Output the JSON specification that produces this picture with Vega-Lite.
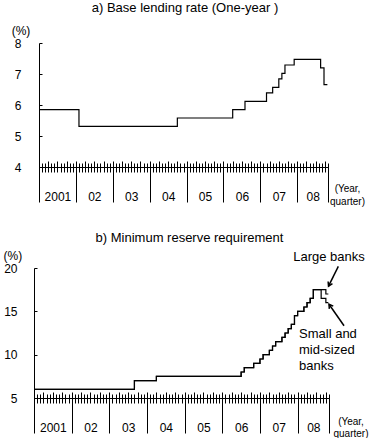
{
  "$schema": "https://vega.github.io/schema/vega-lite/v6.json",
  "background": "white",
  "padding": {"left": 2, "top": 1, "right": 0, "bottom": 0},
  "spacing": 26,
  "config": {
    "font": "Liberation Sans",
    "view": {"stroke": null},
    "axis": {"grid": false, "domainColor": "#000", "tickColor": "#000", "labelColor": "#000", "titleColor": "#000", "labelFont": "Liberation Sans", "titleFont": "Liberation Sans", "labelFontSize": 12, "titleFontWeight": "normal", "domainWidth": 1, "tickWidth": 1, "labelOverlap": false, "labelFlush": false},
    "title": {"font": "Liberation Sans", "fontSize": 13, "fontWeight": "normal", "color": "#000"},
    "text": {"font": "Liberation Sans", "color": "#000"}
  },
  "datasets": {
    "rate": [
      {"m": 0, "v": 5.85}, {"m": 13, "v": 5.31}, {"m": 45, "v": 5.58}, {"m": 63, "v": 5.85},
      {"m": 67, "v": 6.12}, {"m": 74, "v": 6.39}, {"m": 76, "v": 6.57}, {"m": 78, "v": 6.84},
      {"m": 79, "v": 7.02}, {"m": 80, "v": 7.29}, {"m": 83, "v": 7.47}, {"m": 91.6, "v": 7.2},
      {"m": 92.7, "v": 6.66}, {"m": 93.8, "v": 6.66}
    ],
    "rrr": [
      {"s": "large", "m": 0, "v": 6}, {"s": "large", "m": 32, "v": 7}, {"s": "large", "m": 39, "v": 7.5},
      {"s": "large", "m": 66, "v": 8}, {"s": "large", "m": 67, "v": 8.5}, {"s": "large", "m": 70, "v": 9},
      {"s": "large", "m": 72, "v": 9.5}, {"s": "large", "m": 73, "v": 10}, {"s": "large", "m": 75, "v": 10.5},
      {"s": "large", "m": 76, "v": 11}, {"s": "large", "m": 77, "v": 11.5}, {"s": "large", "m": 79, "v": 12},
      {"s": "large", "m": 80, "v": 12.5}, {"s": "large", "m": 81, "v": 13}, {"s": "large", "m": 82, "v": 13.5},
      {"s": "large", "m": 83, "v": 14.5}, {"s": "large", "m": 84, "v": 15}, {"s": "large", "m": 86, "v": 15.5},
      {"s": "large", "m": 87, "v": 16}, {"s": "large", "m": 88, "v": 16.5}, {"s": "large", "m": 89, "v": 17.5},
      {"s": "large", "m": 93, "v": 17}, {"s": "large", "m": 93.8, "v": 17},
      {"s": "small", "m": 0, "v": 6}, {"s": "small", "m": 32, "v": 7}, {"s": "small", "m": 39, "v": 7.5},
      {"s": "small", "m": 66, "v": 8}, {"s": "small", "m": 67, "v": 8.5}, {"s": "small", "m": 70, "v": 9},
      {"s": "small", "m": 72, "v": 9.5}, {"s": "small", "m": 73, "v": 10}, {"s": "small", "m": 75, "v": 10.5},
      {"s": "small", "m": 76, "v": 11}, {"s": "small", "m": 77, "v": 11.5}, {"s": "small", "m": 79, "v": 12},
      {"s": "small", "m": 80, "v": 12.5}, {"s": "small", "m": 81, "v": 13}, {"s": "small", "m": 82, "v": 13.5},
      {"s": "small", "m": 83, "v": 14.5}, {"s": "small", "m": 84, "v": 15}, {"s": "small", "m": 86, "v": 15.5},
      {"s": "small", "m": 87, "v": 16}, {"s": "small", "m": 88, "v": 16.5}, {"s": "small", "m": 89, "v": 17.5},
      {"s": "small", "m": 91.5, "v": 16.5}, {"s": "small", "m": 93, "v": 16}, {"s": "small", "m": 93.8, "v": 16}
    ],
    "notes": [
      {"name": "large", "m": 94, "v": 21.22, "label": "Large banks"},
      {"name": "small", "m": 84.45, "v": 12.38, "label": "Small and\nmid-sized\nbanks"}
    ],
    "arrows": [
      {"name": "large", "m": 96.97, "v": 20.18, "m2": 93.85, "v2": 17.9},
      {"name": "small", "m": 98.79, "v": 13.34, "m2": 94.0, "v2": 15.82}
    ]
  },
  "vconcat": [
    {
      "width": 294,
      "height": 124,
      "title": {"text": "a) Base lending rate (One-year )", "anchor": "middle", "offset": 10, "dx": 4},
      "resolve": {"axis": {"x": "independent"}},
      "layer": [
        {
          "data": {"name": "rate"},
          "mark": {"type": "line", "interpolate": "step-after", "color": "#000", "strokeWidth": 1.2},
          "encoding": {
            "x": {"field": "m", "type": "quantitative", "scale": {"domain": [0, 94], "range": [5, 294], "nice": false, "zero": false},
              "axis": {"orient": "bottom", "values": [0,1,2,3,4,5,6,7,8,9,10,11,12,13,14,15,16,17,18,19,20,21,22,23,24,25,26,27,28,29,30,31,32,33,34,35,36,37,38,39,40,41,42,43,44,45,46,47,48,49,50,51,52,53,54,55,56,57,58,59,60,61,62,63,64,65,66,67,68,69,70,71,72,73,74,75,76,77,78,79,80,81,82,83,84,85,86,87,88,89,90,91,92,93,94], "tickSize": -4, "labels": false, "domain": true, "title": null}},
            "y": {"field": "v", "type": "quantitative", "scale": {"domain": [4, 8], "nice": false, "zero": false},
              "axis": {"values": [4, 5, 6, 7, 8], "tickSize": -3, "labelPadding": 21, "offset": -5, "title": "(%)", "titleAngle": 0, "titleX": -18.5, "titleY": -12.5, "titleAlign": "center", "titleBaseline": "middle", "titleFontSize": 12}}
          }
        },
        {
          "data": {"name": "rate"},
          "mark": {"type": "text", "text": ""},
          "encoding": {
            "x": {"field": "m", "type": "quantitative",
              "axis": {"orient": "bottom", "values": [0,1,2,3,4,5,6,7,8,9,10,11,12,13,14,15,16,17,18,19,20,21,22,23,24,25,26,27,28,29,30,31,32,33,34,35,36,37,38,39,40,41,42,43,44,45,46,47,48,49,50,51,52,53,54,55,56,57,58,59,60,61,62,63,64,65,66,67,68,69,70,71,72,73,74,75,76,77,78,79,80,81,82,83,84,85,86,87,88,89,90,91,92,93,94], "tickSize": 5, "labels": false, "domain": false, "title": null}},
            "y": {"field": "v", "type": "quantitative", "scale": {"domain": [4, 8], "nice": false, "zero": false},
              "axis": {"values": [4, 5, 6, 7, 8], "tickSize": -3, "labelPadding": 21, "offset": -5, "title": "(%)", "titleAngle": 0, "titleX": -18.5, "titleY": -12.5, "titleAlign": "center", "titleBaseline": "middle", "titleFontSize": 12}}
          }
        },
        {
          "data": {"name": "rate"},
          "mark": {"type": "text", "text": ""},
          "encoding": {
            "x": {"field": "m", "type": "quantitative",
              "axis": {"orient": "bottom", "values": [0,3,6,9,12,15,18,21,24,27,30,33,36,39,42,45,48,51,54,57,60,63,66,69,72,75,78,81,84,87,90,93], "tickSize": -6, "labels": false, "domain": false, "title": null}},
            "y": {"field": "v", "type": "quantitative", "scale": {"domain": [4, 8], "nice": false, "zero": false},
              "axis": {"values": [4, 5, 6, 7, 8], "tickSize": -3, "labelPadding": 21, "offset": -5, "title": "(%)", "titleAngle": 0, "titleX": -18.5, "titleY": -12.5, "titleAlign": "center", "titleBaseline": "middle", "titleFontSize": 12}}
          }
        },
        {
          "data": {"name": "rate"},
          "mark": {"type": "text", "text": ""},
          "encoding": {
            "x": {"field": "m", "type": "quantitative",
              "axis": {"orient": "bottom", "values": [0, 12, 24, 36, 48, 60, 72, 84, 94], "tickSize": 35, "labels": false, "domain": false, "title": null}},
            "y": {"field": "v", "type": "quantitative", "scale": {"domain": [4, 8], "nice": false, "zero": false},
              "axis": {"values": [4, 5, 6, 7, 8], "tickSize": -3, "labelPadding": 21, "offset": -5, "title": "(%)", "titleAngle": 0, "titleX": -18.5, "titleY": -12.5, "titleAlign": "center", "titleBaseline": "middle", "titleFontSize": 12}}
          }
        },
        {
          "data": {"name": "rate"},
          "mark": {"type": "text", "text": ""},
          "encoding": {
            "x": {"field": "m", "type": "quantitative",
              "axis": {"orient": "bottom", "values": [6, 18, 30, 42, 54, 66, 78, 89], "ticks": false, "domain": false, "labelPadding": 24,
                "labelExpr": "datum.value < 12 ? '2001' : '0' + (floor(datum.value / 12) + 1)",
                "title": ["(Year,", "quarter)"], "titleFontSize": 10, "titleX": 313, "titleY": 16.5, "titleAlign": "center", "titleBaseline": "top", "titleLineHeight": 12.5, "titleAngle": 0}},
            "y": {"field": "v", "type": "quantitative", "scale": {"domain": [4, 8], "nice": false, "zero": false},
              "axis": {"values": [4, 5, 6, 7, 8], "tickSize": -3, "labelPadding": 21, "offset": -5, "title": "(%)", "titleAngle": 0, "titleX": -18.5, "titleY": -12.5, "titleAlign": "center", "titleBaseline": "middle", "titleFontSize": 12}}
          }
        }
      ]
    },
    {
      "width": 295,
      "height": 130,
      "title": {"text": "b) Minimum reserve requirement", "anchor": "middle", "offset": 4, "dx": 8},
      "resolve": {"axis": {"x": "independent"}},
      "layer": [
        {
          "data": {"name": "rrr"},
          "mark": {"type": "line", "interpolate": "step-after", "color": "#000", "strokeWidth": 1.2},
          "encoding": {
            "x": {"field": "m", "type": "quantitative", "scale": {"domain": [0, 94], "nice": false, "zero": false},
              "axis": {"orient": "bottom", "values": [0,1,2,3,4,5,6,7,8,9,10,11,12,13,14,15,16,17,18,19,20,21,22,23,24,25,26,27,28,29,30,31,32,33,34,35,36,37,38,39,40,41,42,43,44,45,46,47,48,49,50,51,52,53,54,55,56,57,58,59,60,61,62,63,64,65,66,67,68,69,70,71,72,73,74,75,76,77,78,79,80,81,82,83,84,85,86,87,88,89,90,91,92,93,94], "tickSize": -4, "labels": false, "domain": true, "title": null}},
            "y": {"field": "v", "type": "quantitative", "scale": {"domain": [5, 20], "nice": false, "zero": false},
              "axis": {"values": [5, 10, 15, 20], "tickSize": -3, "labelPadding": 20, "title": "(%)", "titleAngle": 0, "titleX": -21.7, "titleY": -13, "titleAlign": "center", "titleBaseline": "middle", "titleFontSize": 12}},
            "detail": {"field": "s", "type": "nominal"}
          }
        },
        {
          "data": {"name": "rrr"},
          "mark": {"type": "text", "text": ""},
          "encoding": {
            "x": {"field": "m", "type": "quantitative",
              "axis": {"orient": "bottom", "values": [0,1,2,3,4,5,6,7,8,9,10,11,12,13,14,15,16,17,18,19,20,21,22,23,24,25,26,27,28,29,30,31,32,33,34,35,36,37,38,39,40,41,42,43,44,45,46,47,48,49,50,51,52,53,54,55,56,57,58,59,60,61,62,63,64,65,66,67,68,69,70,71,72,73,74,75,76,77,78,79,80,81,82,83,84,85,86,87,88,89,90,91,92,93,94], "tickSize": 5, "labels": false, "domain": false, "title": null}},
            "y": {"field": "v", "type": "quantitative", "scale": {"domain": [5, 20], "nice": false, "zero": false},
              "axis": {"values": [5, 10, 15, 20], "tickSize": -3, "labelPadding": 20, "title": "(%)", "titleAngle": 0, "titleX": -21.7, "titleY": -13, "titleAlign": "center", "titleBaseline": "middle", "titleFontSize": 12}}
          }
        },
        {
          "data": {"name": "rrr"},
          "mark": {"type": "text", "text": ""},
          "encoding": {
            "x": {"field": "m", "type": "quantitative",
              "axis": {"orient": "bottom", "values": [0,3,6,9,12,15,18,21,24,27,30,33,36,39,42,45,48,51,54,57,60,63,66,69,72,75,78,81,84,87,90,93], "tickSize": -6, "labels": false, "domain": false, "title": null}},
            "y": {"field": "v", "type": "quantitative", "scale": {"domain": [5, 20], "nice": false, "zero": false},
              "axis": {"values": [5, 10, 15, 20], "tickSize": -3, "labelPadding": 20, "title": "(%)", "titleAngle": 0, "titleX": -21.7, "titleY": -13, "titleAlign": "center", "titleBaseline": "middle", "titleFontSize": 12}}
          }
        },
        {
          "data": {"name": "rrr"},
          "mark": {"type": "text", "text": ""},
          "encoding": {
            "x": {"field": "m", "type": "quantitative",
              "axis": {"orient": "bottom", "values": [0, 12, 24, 36, 48, 60, 72, 84, 94], "tickSize": 35, "labels": false, "domain": false, "title": null}},
            "y": {"field": "v", "type": "quantitative", "scale": {"domain": [5, 20], "nice": false, "zero": false},
              "axis": {"values": [5, 10, 15, 20], "tickSize": -3, "labelPadding": 20, "title": "(%)", "titleAngle": 0, "titleX": -21.7, "titleY": -13, "titleAlign": "center", "titleBaseline": "middle", "titleFontSize": 12}}
          }
        },
        {
          "data": {"name": "rrr"},
          "mark": {"type": "text", "text": ""},
          "encoding": {
            "x": {"field": "m", "type": "quantitative",
              "axis": {"orient": "bottom", "values": [6, 18, 30, 42, 54, 66, 78, 89], "ticks": false, "domain": false, "labelPadding": 24,
                "labelExpr": "datum.value < 12 ? '2001' : '0' + (floor(datum.value / 12) + 1)",
                "title": ["(Year,", "quarter)"], "titleFontSize": 10, "titleX": 316.5, "titleY": 18, "titleAlign": "center", "titleBaseline": "top", "titleLineHeight": 12, "titleAngle": 0}},
            "y": {"field": "v", "type": "quantitative", "scale": {"domain": [5, 20], "nice": false, "zero": false},
              "axis": {"values": [5, 10, 15, 20], "tickSize": -3, "labelPadding": 20, "title": "(%)", "titleAngle": 0, "titleX": -21.7, "titleY": -13, "titleAlign": "center", "titleBaseline": "middle", "titleFontSize": 12}}
          }
        },
        {
          "data": {"name": "notes"},
          "transform": [{"filter": "datum.name == 'large'"}],
          "mark": {"type": "text", "fontSize": 13, "align": "center", "baseline": "middle"},
          "encoding": {
            "x": {"field": "m", "type": "quantitative", "axis": null},
            "y": {"field": "v", "type": "quantitative", "scale": {"domain": [5, 20], "nice": false, "zero": false},
              "axis": {"values": [5, 10, 15, 20], "tickSize": -3, "labelPadding": 20, "title": "(%)", "titleAngle": 0, "titleX": -21.7, "titleY": -13, "titleAlign": "center", "titleBaseline": "middle", "titleFontSize": 12}},
            "text": {"field": "label", "type": "nominal"}
          }
        },
        {
          "data": {"name": "notes"},
          "transform": [{"filter": "datum.name == 'small'"}],
          "mark": {"type": "text", "fontSize": 13, "lineHeight": 16, "lineBreak": "\n", "align": "left", "baseline": "middle"},
          "encoding": {
            "x": {"field": "m", "type": "quantitative", "axis": null},
            "y": {"field": "v", "type": "quantitative", "scale": {"domain": [5, 20], "nice": false, "zero": false},
              "axis": {"values": [5, 10, 15, 20], "tickSize": -3, "labelPadding": 20, "title": "(%)", "titleAngle": 0, "titleX": -21.7, "titleY": -13, "titleAlign": "center", "titleBaseline": "middle", "titleFontSize": 12}},
            "text": {"field": "label", "type": "nominal"}
          }
        },
        {
          "data": {"name": "arrows"},
          "mark": {"type": "rule", "color": "#000", "strokeWidth": 1.5},
          "encoding": {
            "x": {"field": "m", "type": "quantitative", "axis": null},
            "y": {"field": "v", "type": "quantitative", "scale": {"domain": [5, 20], "nice": false, "zero": false},
              "axis": {"values": [5, 10, 15, 20], "tickSize": -3, "labelPadding": 20, "title": "(%)", "titleAngle": 0, "titleX": -21.7, "titleY": -13, "titleAlign": "center", "titleBaseline": "middle", "titleFontSize": 12}},
            "x2": {"field": "m2"},
            "y2": {"field": "v2"}
          }
        },
        {
          "data": {"name": "arrows"},
          "mark": {"type": "point", "shape": "M-0.6,1L0,0L0.6,1", "filled": false, "color": "#000", "strokeWidth": 1.5, "size": 64, "opacity": 1},
          "encoding": {
            "x": {"field": "m2", "type": "quantitative", "axis": null},
            "y": {"field": "v2", "type": "quantitative", "scale": {"domain": [5, 20], "nice": false, "zero": false},
              "axis": {"values": [5, 10, 15, 20], "tickSize": -3, "labelPadding": 20, "title": "(%)", "titleAngle": 0, "titleX": -21.7, "titleY": -13, "titleAlign": "center", "titleBaseline": "middle", "titleFontSize": 12}},
            "angle": {"field": "name", "type": "nominal", "scale": {"domain": ["large", "small"], "range": [206, 325]}, "legend": null}
          }
        }
      ]
    }
  ]
}
